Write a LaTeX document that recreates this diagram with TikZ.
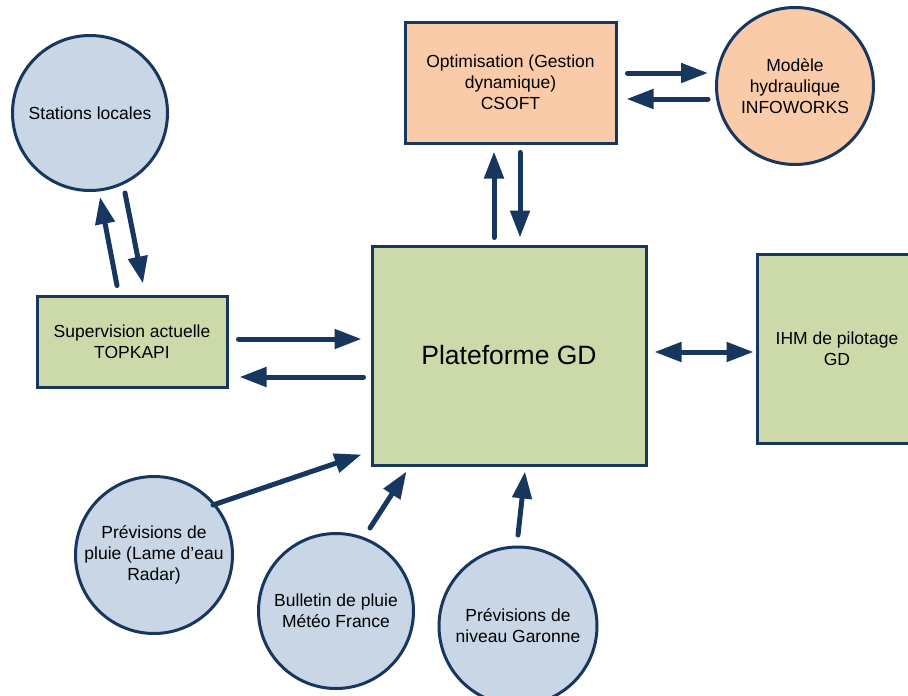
\documentclass[tikz,border=0pt]{standalone}
\usepackage{fontspec}
\setmainfont{Liberation Sans}
\usetikzlibrary{arrows.meta,calc}
\definecolor{navy}{HTML}{17375E}
\definecolor{greenfill}{HTML}{CCDAAA}
\definecolor{bluefill}{HTML}{C8D6E6}
\definecolor{orangefill}{HTML}{FACBA8}
\tikzset{
  txt/.style={align=center, font=\fontsize{17.5}{21}\selectfont, text=black, inner sep=0pt},
  greenbox/.style={txt, draw=navy, line width=3pt, fill=greenfill, rectangle},
  orangebox/.style={txt, draw=navy, line width=3pt, fill=orangefill, rectangle},
  bluecirc/.style={txt, draw=navy, line width=3pt, fill=bluefill, circle, minimum size=155pt},
  orangecirc/.style={txt, draw=navy, line width=3pt, fill=orangefill, circle, minimum size=155pt},
  arr/.style={draw=navy, line width=5pt, line cap=round, -{Triangle[length=27pt,width=19pt]}},
  darr/.style={draw=navy, line width=5pt, {Triangle[length=27pt,width=19pt]}-{Triangle[length=27pt,width=19pt]}}
}
\begin{document}
\begin{tikzpicture}[x=1pt,y=-1pt]
\clip (0,0) rectangle (908,696);
\fill[white] (0,0) rectangle (908,696);
% nodes
\node[bluecirc] (stations) at (90,113) {Stations locales};
\node[greenbox, minimum width=190pt, minimum height=91pt] (sup) at (132,341.5) {Supervision actuelle\\TOPKAPI};
\node[greenbox, minimum width=274pt, minimum height=219pt, font=\fontsize{26.5}{30}\selectfont] (plat) at (509,355.5) {Plateforme GD};
\node[orangebox, minimum width=211pt, minimum height=121pt] (opt) at (510.5,82.5) {Optimisation (Gestion\\dynamique)\\CSOFT};
\node[orangecirc, minimum size=157pt] (model) at (795,86) {Modèle\\hydraulique\\INFOWORKS};
\node[greenbox, minimum width=160pt, minimum height=189pt] (ihm) at (837,348.5) {IHM de pilotage\\GD};
\node[bluecirc, minimum size=157pt] (pluie) at (154,555) {Prévisions de\\pluie (Lame d’eau\\Radar)};
\node[bluecirc] (bulletin) at (336,611) {Bulletin de pluie\\Météo France};
\node[bluecirc, minimum size=158pt] (niveau) at (518,626) {Prévisions de\\niveau Garonne};
% connectors
\draw[arr] ($(sup.north)+(-15,-9)$) -- ($(stations.center)+(10,84)$);
\draw[arr] ($(stations.center)+(35,80)$) -- ($(sup.north)+(11,-11)$);
\draw[arr] ($(sup.east)+(10,-2.5)$) -- ($(plat.west)+(-9,-16.5)$);
\draw[arr] ($(plat.west)+(-7,21.5)$) -- ($(sup.east)+(11,35.5)$);
\draw[arr] ($(plat.north)+(-15,-7)$) -- ($(opt.south)+(-16.5,7)$);
\draw[arr] ($(opt.south)+(9.5,8)$) -- ($(plat.north)+(11,-7)$);
\draw[arr] ($(opt.east)+(10,-9.5)$) -- ($(model.center)+(-87,-13)$);
\draw[arr] ($(model.center)+(-87,13)$) -- ($(opt.east)+(9,16.5)$);
\draw[darr] ($(plat.east)+(7,-3.5)$) -- ($(ihm.west)+(-2,3.5)$);
\draw[arr] ($(pluie.center)+(59,-50)$) -- ($(plat.south west)+(-9,-12)$);
\draw[arr] ($(bulletin.center)+(34,-83)$) -- ($(plat.south west)+(36,5)$);
\draw[arr] ($(niveau.center)+(0,-91)$) -- ($(plat.south)+(16,5)$);
\end{tikzpicture}
\end{document}
